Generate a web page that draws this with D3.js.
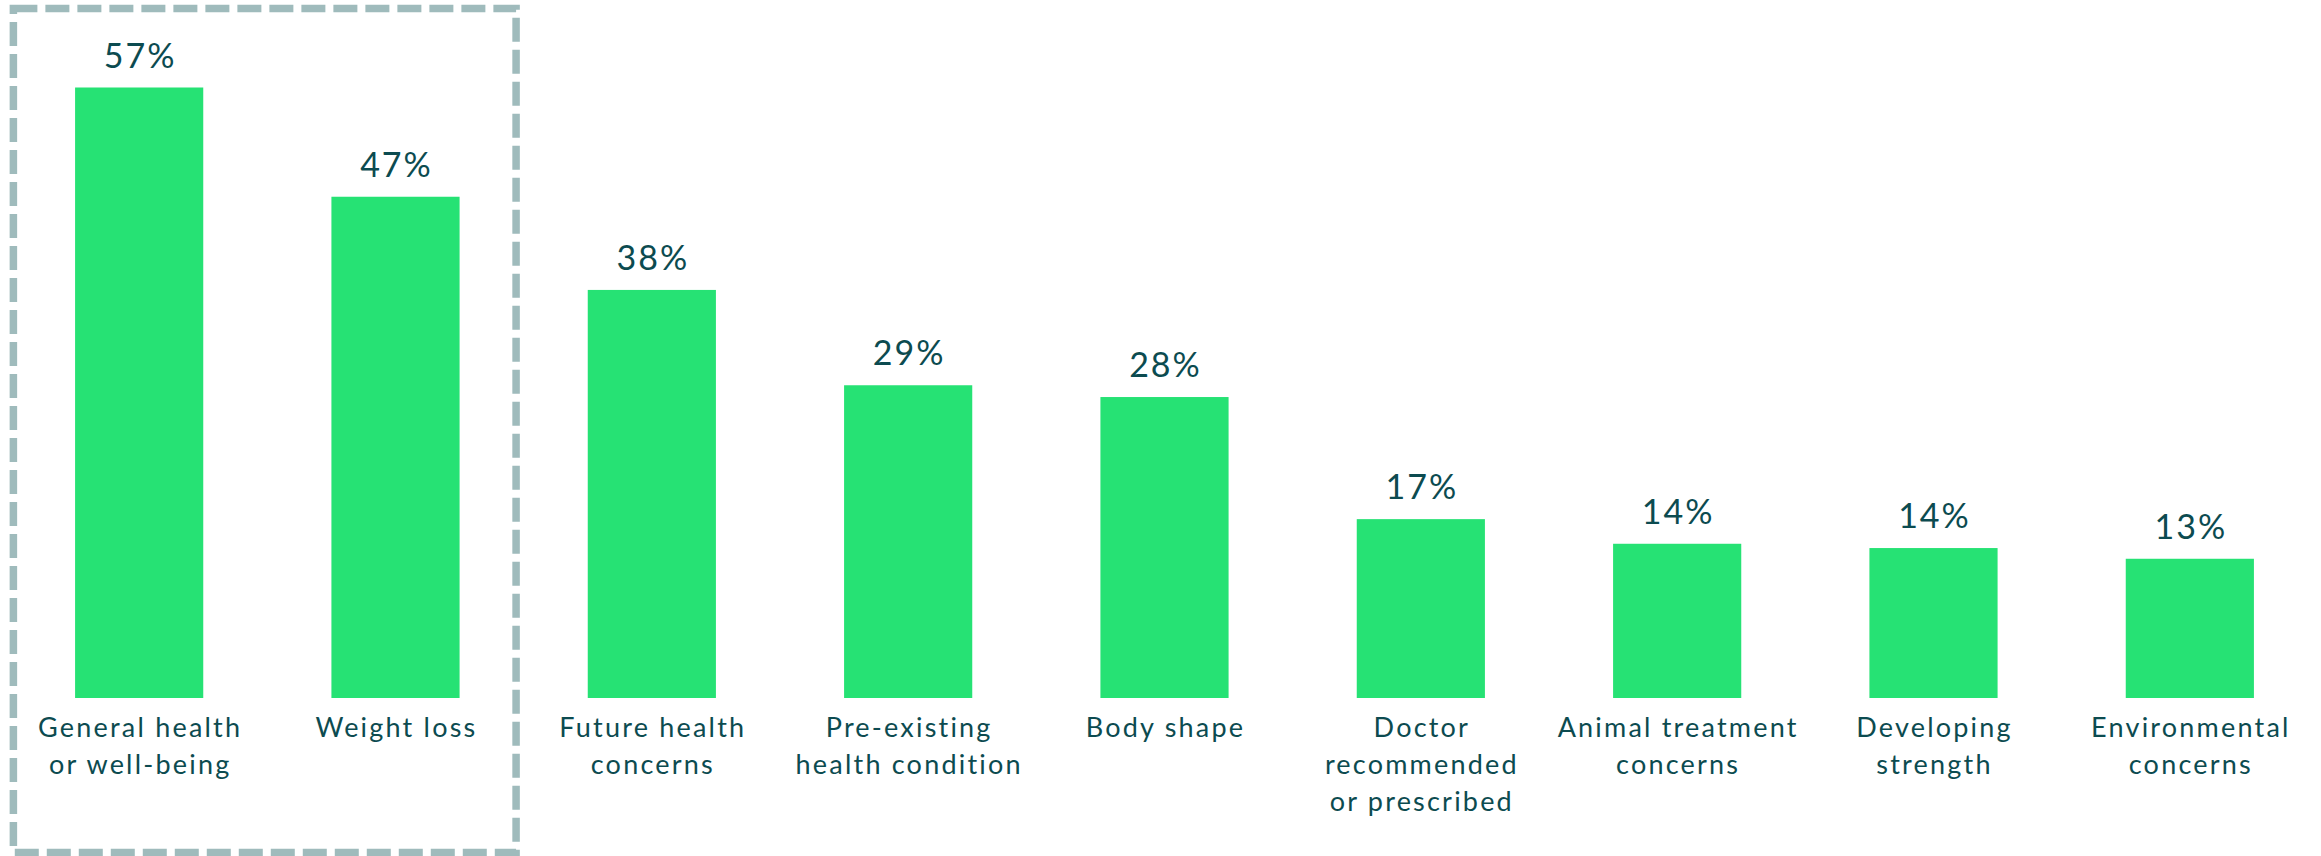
<!DOCTYPE html>
<html>
<head>
<meta charset="utf-8">
<script src="https://cdn.jsdelivr.net/npm/d3@7"></script>
<style>
  html, body { margin: 0; padding: 0; background: #fff; }
  svg { display: block; }
  text { font-family: "Lato", "Noto Sans", sans-serif; fill: #0c4b50; }
</style>
</head>
<body>
<div id="chart"></div>
<script>
// reasons for dieting, share of respondents (%)
const categories = [
  ["General health", "or well-being"],
  ["Weight loss"],
  ["Future health", "concerns"],
  ["Pre-existing", "health condition"],
  ["Body shape"],
  ["Doctor", "recommended", "or prescribed"],
  ["Animal treatment", "concerns"],
  ["Developing", "strength"],
  ["Environmental", "concerns"]
];
const values = [57, 46.8, 38.1, 29.2, 28.1, 16.7, 14.4, 14.0, 13.0];
const highlighted = [0, 1]; // boxed categories

const w = 2321, h = 856;

const svg = d3.select('#chart').append('svg')
  .attr('width', w)
  .attr('height', h);

const x = d3.scaleBand()
  .domain(d3.range(categories.length))
  .range([11, 2318])
  .paddingInner(0.5)
  .paddingOuter(0.25);

const y = d3.scaleLinear()
  .domain([0, 57])
  .range([698, 87.5]);

// dashed highlight box around the first two bars
const boxL = x(highlighted[0]) - 61.7;
const boxR = x(highlighted[highlighted.length - 1]) + x.bandwidth() + 56.5;
svg.append('rect')
  .attr('x', boxL)
  .attr('y', 8.5)
  .attr('width', boxR - boxL)
  .attr('height', 844)
  .style('fill', 'none')
  .style('stroke', '#9fbbbc')
  .style('stroke-width', 7.5)
  .style('stroke-dasharray', '24 8');

const bars = svg.selectAll('.bar')
  .data(values)
  .enter()
  .append('g')
  .attr('class', 'bar');

bars.append('rect')
  .attr('x', (d, i) => x(i))
  .attr('y', d => y(d))
  .attr('width', x.bandwidth())
  .attr('height', d => y(0) - y(d))
  .style('fill', '#26e274');

// value labels
bars.append('text')
  .attr('x', (d, i) => x(i) + x.bandwidth() / 2 + 1)
  .attr('y', d => y(d) - 20)
  .attr('text-anchor', 'middle')
  .style('font-size', '34px')
  .style('letter-spacing', '2px')
  .text(d => Math.round(d) + '%');

// category labels, one tspan per line
const labels = svg.selectAll('.cat')
  .data(categories)
  .enter()
  .append('text')
  .attr('class', 'cat')
  .attr('text-anchor', 'middle')
  .style('font-size', '27px')
  .style('letter-spacing', '2.2px')
  .attr('transform', (d, i) => `translate(${x(i) + x.bandwidth() / 2 + 1},737)`);

labels.selectAll('tspan')
  .data(d => d)
  .enter()
  .append('tspan')
  .attr('x', 0)
  .attr('y', (d, i) => i * 37)
  .text(d => d);
</script>
</body>
</html>
